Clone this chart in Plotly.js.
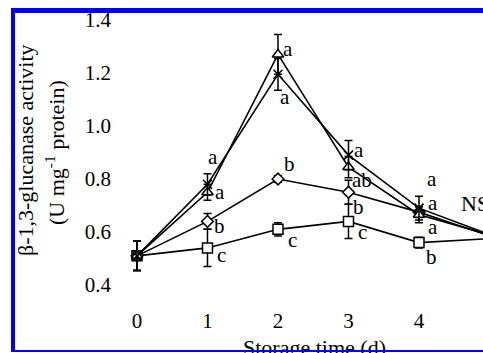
<!DOCTYPE html>
<html>
<head>
<meta charset="utf-8">
<script src="https://cdn.plot.ly/plotly-3.0.1.min.js"></script>
<style>
  html, body { margin: 0; padding: 0; overflow: hidden; background: #fff; }
  #chart { width: 483px; height: 353px; position: absolute; left: 0; top: 0; }
  #frame { position: absolute; left: 11px; top: 8px; width: 480px; height: 344px;
           box-sizing: border-box; border-left: 4px solid #0000ff; border-top: 5px solid #0000ff;
           border-bottom: 2px solid #0000ff; pointer-events: none; }
</style>
</head>
<body>
<div id="chart"></div>
<div id="frame"></div>
<script>
// ---- data ----
const days = [0, 1, 2, 3, 4, 5];
const xTickVals = [0, 1, 2, 3, 4];
const xTickText = ['0', '1', '2', '3', '4'];
const yTickVals = [0.4, 0.6, 0.8, 1.0, 1.2, 1.4];
const yTickText = ['0.4', '0.6', '0.8', '1.0', '1.2', '1.4'];

const squareVals   = [0.51, 0.54, 0.61, 0.64, 0.56, 0.575];
const squareErr    = [0.055, 0.07, 0.025, 0.065, 0.02, 0];
const squareLetters = [null, 'c', 'c', 'c', 'b', null];

const diamondVals  = [0.51, 0.64, 0.80, 0.75, 0.675, 0.585];
const diamondErr   = [0.055, 0.03, 0.012, 0.045, 0.02, 0];
const diamondLetters = [null, 'b', 'b', 'b', 'a', null];

const triangleVals = [0.51, 0.75, 1.27, 0.845, 0.665, 0.59];
const triangleErr  = [0.055, 0.03, 0.075, 0.04, 0.03, 0];
const triangleLetters = [null, 'a', 'a', 'ab', 'a', null];

const crossVals    = [0.51, 0.78, 1.195, 0.89, 0.69, 0.59];
const crossErr     = [0.055, 0.04, 0.06, 0.055, 0.045, 0];
const crossLetters = [null, 'a', 'a', 'a', 'a', null];

const xTitle = 'Storage time (d)';
const yTitle1 = 'β-1,3-glucanase activity';
const yTitle2 = '(U mg<sup>-1</sup> protein)';
const nsLabel = 'NS';

// ---- label offsets (pixels: dx right, dy down) ----
const squareOff   = [null, [14, 7], [15, 11], [14, 11], [13, 14], null];
const diamondOff  = [null, [12, 5], [12, -15], [10, 15], [14, 15], null];
const triangleOff = [null, [13, 0], [10, -5], [14, 13], [14, -12], null];
const crossOff    = [null, [6, -27], [7, 23], [11, -5], [13, -29], null];

const FONT = '"Liberation Serif", "DejaVu Serif", serif';

function mkTrace(vals, errs, symbol, size) {
  return {
    x: days, y: vals, type: 'scatter', mode: 'lines+markers',
    line: { color: 'black', width: 1.6 },
    marker: { symbol: symbol, size: size, color: 'white', line: { color: 'black', width: 1.5 } },
    error_y: { type: 'data', array: errs, visible: true, color: 'black', thickness: 1.5, width: 4 },
    showlegend: false, hoverinfo: 'skip'
  };
}

const traces = [
  mkTrace(squareVals, squareErr, 'square', 10),
  mkTrace(diamondVals, diamondErr, 'diamond', 9),
  mkTrace(triangleVals, triangleErr, 'triangle-up', 10),
  mkTrace(crossVals, crossErr, 'x-thin', 9)
];

const annotations = [];
function addLetters(vals, letters, offs) {
  letters.forEach((t, i) => {
    if (!t) return;
    annotations.push({
      x: days[i], y: vals[i], xref: 'x', yref: 'y', text: t, showarrow: false,
      xshift: offs[i][0], yshift: -offs[i][1], xanchor: 'center', yanchor: 'middle',
      font: { family: FONT, size: 21, color: 'black' }
    });
  });
}
addLetters(squareVals, squareLetters, squareOff);
addLetters(diamondVals, diamondLetters, diamondOff);
addLetters(triangleVals, triangleLetters, triangleOff);
addLetters(crossVals, crossLetters, crossOff);

// plot area geometry
const L = 115, T = 13, B = 53, W = 483, H = 353;
const pw = W - L, ph = H - T - B;
const px2paperX = p => (p - L) / pw;
const px2paperY = p => (H - B - p) / ph;

annotations.push({ xref: 'paper', yref: 'paper', x: px2paperX(25), y: px2paperY(150),
  text: yTitle1, textangle: -90, showarrow: false, xanchor: 'center', yanchor: 'middle',
  font: { family: FONT, size: 22, color: 'black' } });
annotations.push({ xref: 'paper', yref: 'paper', x: px2paperX(55), y: px2paperY(153),
  text: yTitle2, textangle: -90, showarrow: false, xanchor: 'center', yanchor: 'middle',
  font: { family: FONT, size: 22, color: 'black' } });
annotations.push({ xref: 'paper', yref: 'paper', x: px2paperX(314), y: px2paperY(333),
  text: xTitle, showarrow: false, xanchor: 'center', yanchor: 'top',
  font: { family: FONT, size: 22, color: 'black' } });
annotations.push({ xref: 'paper', yref: 'paper', x: px2paperX(459), y: px2paperY(203),
  text: nsLabel, showarrow: false, xanchor: 'left', yanchor: 'middle',
  font: { family: FONT, size: 22, color: 'black' } });

const layout = {
  width: W, height: H,
  margin: { l: L, r: 0, t: T, b: B, pad: 0 },
  paper_bgcolor: 'white', plot_bgcolor: 'white',
  font: { family: FONT, color: 'black' },
  xaxis: { range: [-0.312, 4.908], tickvals: xTickVals, ticktext: xTickText,
           showgrid: false, zeroline: false, showline: false, ticks: '',
           tickfont: { family: FONT, size: 21, color: 'black' }, ticklabelstandoff: 6 },
  yaxis: { range: [0.3434, 1.4264], tickvals: yTickVals, ticktext: yTickText,
           showgrid: false, zeroline: false, showline: false, ticks: '',
           tickfont: { family: FONT, size: 21, color: 'black' }, ticklabelstandoff: 3 },
  annotations: annotations
};

Plotly.newPlot('chart', traces, layout, { displayModeBar: false, staticPlot: true });
</script>
</body>
</html>
